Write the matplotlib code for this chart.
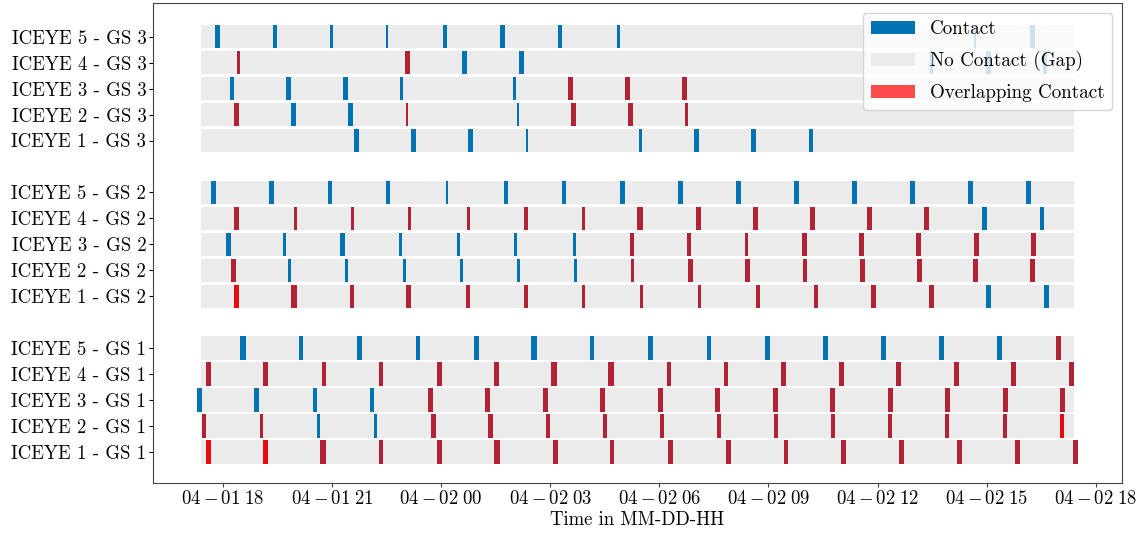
import matplotlib
matplotlib.use("Agg")
import matplotlib.pyplot as plt
import matplotlib.dates as mdates
from matplotlib.patches import Patch
from matplotlib.ticker import FuncFormatter
import pandas as pd

plt.rcParams['font.family'] = 'cmr10'
plt.rcParams['mathtext.fontset'] = 'cm'
plt.rcParams['axes.formatter.use_mathtext'] = True

# ---------------- data ----------------
# times in minutes relative to 04-01 18:00; (start, end, overlap count)
REFERENCE_TIME = "2024-04-01 18:00"
WINDOW = (-36, 1404)

satellites = ["ICEYE 1", "ICEYE 2", "ICEYE 3", "ICEYE 4", "ICEYE 5"]
stations = ["GS 1", "GS 2", "GS 3"]

GS1_ICEYE1 = [(-28, -20, 2), (67, 75, 2), (161, 170, 1), (257, 265, 1), (353, 361, 1), (448, 457, 1),
              (544, 553, 1), (638, 646, 1), (734, 742, 1), (830, 838, 1), (925, 933, 1), (1019, 1028, 1),
              (1115, 1123, 1), (1211, 1219, 1), (1306, 1315, 1), (1402, 1410, 1)]
GS1_ICEYE2 = [(-34, -27, 1), (61, 67, 1), (155, 161, 0), (249, 255, 0), (344, 351, 1), (438, 445, 1),
              (533, 539, 1), (627, 633, 1), (721, 727, 1), (815, 821, 1), (909, 915, 1), (1003, 1009, 1),
              (1097, 1103, 1), (1191, 1198, 1), (1287, 1293, 1), (1381, 1387, 2)]
GS1_ICEYE3 = [(-42, -34, 0), (52, 60, 0), (148, 156, 0), (242, 250, 0), (338, 346, 1), (432, 440, 1),
              (528, 536, 1), (622, 630, 1), (717, 726, 1), (811, 820, 1), (907, 915, 1), (1001, 1009, 1),
              (1097, 1105, 1), (1191, 1199, 1), (1287, 1295, 1), (1381, 1389, 1)]
GS1_ICEYE4 = [(-27, -19, 1), (67, 75, 1), (163, 171, 1), (257, 265, 1), (353, 361, 1), (447, 455, 1),
              (542, 551, 1), (636, 645, 1), (732, 740, 1), (826, 834, 1), (920, 929, 1), (1016, 1024, 1),
              (1110, 1118, 1), (1206, 1214, 1), (1300, 1308, 1), (1395, 1404, 1)]
GS1_ICEYE5 = [(29, 38, 0), (125, 133, 0), (222, 230, 0), (318, 326, 0), (414, 422, 0), (509, 518, 0),
              (605, 613, 0), (701, 709, 0), (798, 806, 0), (894, 902, 0), (990, 998, 0), (1085, 1094, 0),
              (1181, 1189, 0), (1277, 1285, 0), (1374, 1382, 1)]

GS2_ICEYE1 = [(18, 26, 2), (113, 122, 1), (209, 217, 1), (303, 311, 1), (401, 407, 1), (496, 503, 1),
              (592, 597, 1), (688, 693, 1), (783, 788, 1), (879, 886, 1), (975, 981, 1), (1069, 1077, 1),
              (1164, 1173, 1), (1259, 1267, 0), (1354, 1362, 0)]
GS2_ICEYE2 = [(13, 21, 1), (107, 113, 0), (201, 207, 0), (297, 302, 0), (391, 396, 0), (486, 490, 0),
              (580, 585, 0), (674, 679, 1), (768, 775, 1), (862, 869, 1), (957, 963, 1), (1051, 1059, 1),
              (1145, 1153, 1), (1237, 1245, 1), (1331, 1339, 1)]
GS2_ICEYE3 = [(5, 13, 0), (99, 105, 0), (194, 201, 0), (290, 295, 0), (386, 391, 0), (481, 486, 0),
              (577, 582, 0), (671, 678, 1), (765, 772, 1), (861, 867, 1), (955, 963, 1), (1049, 1057, 1),
              (1143, 1151, 1), (1239, 1247, 1), (1333, 1341, 1)]
GS2_ICEYE4 = [(19, 26, 1), (117, 122, 1), (211, 216, 1), (306, 311, 1), (402, 407, 1), (496, 503, 1),
              (592, 598, 1), (684, 693, 1), (780, 788, 1), (874, 882, 1), (968, 976, 1), (1062, 1070, 1),
              (1156, 1164, 1), (1252, 1260, 0), (1348, 1354, 0)]
GS2_ICEYE5 = [(-20, -12, 0), (77, 84, 0), (173, 180, 0), (270, 275, 0), (368, 372, 0), (463, 470, 0),
              (559, 566, 0), (655, 663, 0), (750, 759, 0), (846, 854, 0), (942, 950, 0), (1037, 1046, 0),
              (1133, 1141, 0), (1229, 1237, 0), (1325, 1333, 0)]

GS3_ICEYE1 = [(216, 224, 0), (310, 318, 0), (405, 412, 0), (500, 503, 0), (686, 691, 0), (777, 785, 0),
              (871, 879, 0), (967, 973, 0)]
GS3_ICEYE2 = [(19, 26, 1), (113, 121, 0), (207, 214, 0), (302, 305, 1), (486, 488, 0), (575, 582, 1),
              (668, 676, 1), (762, 768, 1)]
GS3_ICEYE3 = [(12, 19, 0), (105, 113, 0), (199, 206, 0), (293, 297, 0), (478, 483, 0), (570, 577, 1),
              (663, 671, 1), (758, 765, 1)]
GS3_ICEYE4 = [(24, 29, 1), (301, 308, 1), (395, 402, 0), (489, 496, 0), (1166, 1171, 0), (1259, 1267, 0),
              (1352, 1360, 0)]
GS3_ICEYE5 = [(-13, -5, 0), (83, 89, 0), (177, 181, 0), (270, 273, 0), (363, 369, 0), (458, 465, 0),
              (553, 560, 0), (650, 655, 0), (1239, 1242, 0), (1331, 1339, 0)]

schedule = {
    "GS 1": [GS1_ICEYE1, GS1_ICEYE2, GS1_ICEYE3, GS1_ICEYE4, GS1_ICEYE5],
    "GS 2": [GS2_ICEYE1, GS2_ICEYE2, GS2_ICEYE3, GS2_ICEYE4, GS2_ICEYE5],
    "GS 3": [GS3_ICEYE1, GS3_ICEYE2, GS3_ICEYE3, GS3_ICEYE4, GS3_ICEYE5],
}

# ---------------- styling ----------------
C_CONTACT = "#0173b2"
C_GAP = "#ebebeb"
C_OVERLAP = "red"
OVERLAP_ALPHA = 0.7
BAR_H = 0.9
FS = 13.5

ref = pd.Timestamp(REFERENCE_TIME)


def tnum(m):
    return mdates.date2num(ref + pd.Timedelta(minutes=m))


DAY_MIN = 24 * 60.0

fig = plt.figure(figsize=(11.39, 5.33), dpi=100)
ax = fig.add_axes([153.3 / 1139, 1 - 483 / 533, (1121.7 - 153.3) / 1139, 480 / 533])

yticks, ylabels = [], []
for g, gs in enumerate(stations):
    for i, sat in enumerate(satellites):
        y = g * 6 + i
        yticks.append(y)
        ylabels.append(f"{sat} - {gs}")
        events = sorted(schedule[gs][i])
        # gaps
        gaps = []
        cur = WINDOW[0]
        for s, e, _ in events:
            if s > cur:
                gaps.append((tnum(cur), (s - cur) / DAY_MIN))
            cur = max(cur, e)
        if cur < WINDOW[1]:
            gaps.append((tnum(cur), (WINDOW[1] - cur) / DAY_MIN))
        ax.broken_barh(gaps, (y - BAR_H / 2, BAR_H), facecolors=C_GAP, edgecolor="none")
        ax.broken_barh([(tnum(s), (e - s) / DAY_MIN) for s, e, _ in events],
                       (y - BAR_H / 2, BAR_H), facecolors=C_CONTACT, edgecolor="none")
        maxn = max(n for _, _, n in events)
        for k in range(1, maxn + 1):
            ov = [(tnum(s), (e - s) / DAY_MIN) for s, e, n in events if n >= k]
            if ov:
                ax.broken_barh(ov, (y - BAR_H / 2, BAR_H), facecolors=C_OVERLAP,
                               alpha=OVERLAP_ALPHA, edgecolor="none")

ax.margins(x=0.05)
ax.set_ylim(-1.2, 17.3)
ax.set_yticks(yticks)
ax.set_yticklabels(ylabels, fontsize=FS)

ax.xaxis.set_major_locator(mdates.HourLocator(byhour=range(0, 24, 3)))


def fmt(x, pos):
    d = mdates.num2date(x)
    return r"$\mathrm{%02d-%02d\;%02d}$" % (d.month, d.day, d.hour)


ax.xaxis.set_major_formatter(FuncFormatter(fmt))
ax.tick_params(axis="x", labelsize=FS, length=3, pad=2, color="#444444")
ax.tick_params(axis="y", length=3, pad=2)
ax.set_xlabel("Time in MM-DD-HH", fontsize=FS, labelpad=2)
for sp in ax.spines.values():
    sp.set_color("#444444")

handles = [Patch(facecolor=C_CONTACT, label="Contact"),
           Patch(facecolor=C_GAP, label="No Contact (Gap)"),
           Patch(facecolor=C_OVERLAP, alpha=OVERLAP_ALPHA, label="Overlapping Contact")]
ax.legend(handles=handles, loc="upper right", fontsize=13.7, handlelength=2.3,
          labelspacing=0.68)

fig.savefig("out.png", dpi=100)
